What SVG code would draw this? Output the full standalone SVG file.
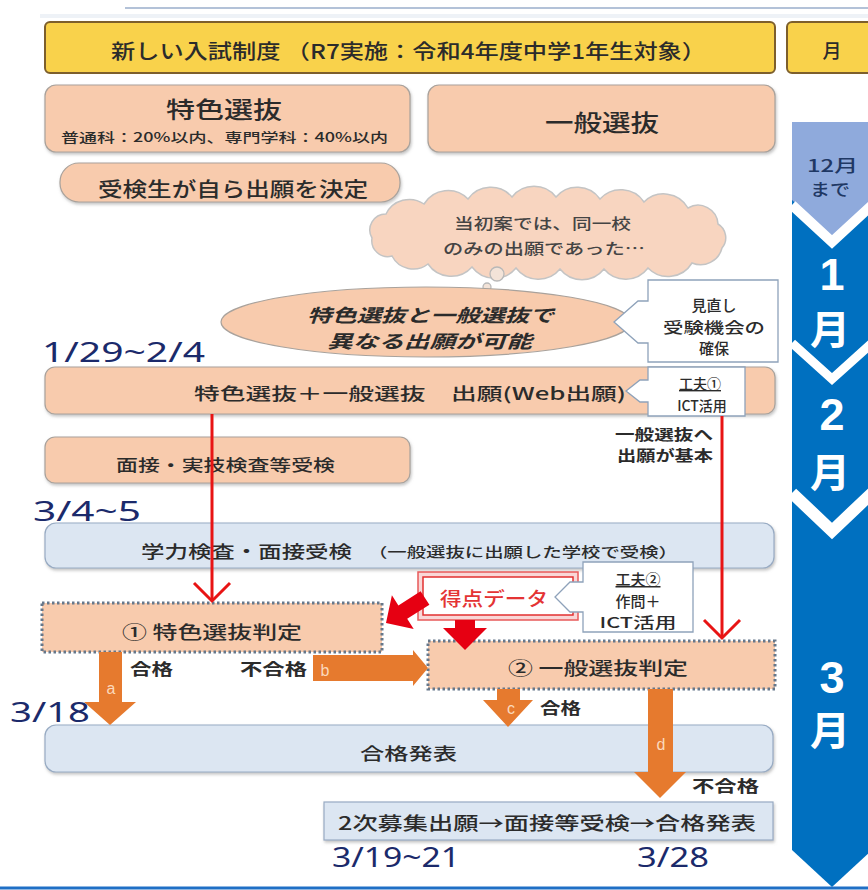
<svg xmlns="http://www.w3.org/2000/svg" width="868" height="890" viewBox="0 0 868 890">
<defs>
<style>
.jp{font-family:"Noto Sans CJK JP","Noto Sans",sans-serif;fill:#2b2b2b;font-weight:500}
.b{font-weight:700}
.date{font-family:"Noto Sans","DejaVu Sans",sans-serif;fill:#1B2A6B;font-size:28px}
.sal{fill:#F8CBAD;stroke:#A9A29C;stroke-width:1.2}
.lb{fill:#DCE6F2;stroke:#98ABC3;stroke-width:1.2}
.dot{fill:#F8CBAD;stroke:#66778A;stroke-width:3;stroke-dasharray:2.5 2.5}
.call{fill:#fff;stroke:#8EA2BA;stroke-width:1.3}
.red{stroke:#E81414;stroke-width:3;fill:none}
.org{fill:#E67A2E}
.lab{font-family:"Liberation Sans",sans-serif;fill:#FBD9BC;font-size:16px;text-anchor:middle}
.wt{fill:#fff;font-weight:700;text-anchor:middle}
</style>
<filter id="sh" x="-5%" y="-10%" width="110%" height="130%">
<feDropShadow dx="1" dy="2" stdDeviation="1.5" flood-color="#888" flood-opacity="0.5"/>
</filter>
</defs>
<rect width="868" height="890" fill="#fff"/>
<line x1="125" y1="8" x2="868" y2="8" stroke="#B3C2D8" stroke-width="2"/>
<line x1="40" y1="16" x2="868" y2="16" stroke="#EEF2F7" stroke-width="4"/>

<g id="title">
<rect x="45" y="22" width="730" height="51" rx="5" fill="#F9D24B" stroke="#7D5F2C" stroke-width="2"/>
<text class="jp" x="111" y="59" font-size="20" textLength="595" lengthAdjust="spacingAndGlyphs">新しい入試制度 （R7実施：令和4年度中学1年生対象）</text>
</g>
<g id="month-header">
<rect x="787" y="22" width="90" height="51" rx="5" fill="#F9D24B" stroke="#7D5F2C" stroke-width="2"/>
<text class="jp" x="832" y="58" font-size="19" text-anchor="middle">月</text>
</g>

<g id="timeline">
<polygon points="792,200 872,200 872,850 832,887 792,850" fill="#0070C0"/>
<polygon points="792,122 872,122 872,200 832,237 792,200" fill="#8FAADC"/>
<polyline points="792,205 832,242 872,205" fill="none" stroke="#fff" stroke-width="10"/>
<polyline points="792,343 832,379 872,343" fill="none" stroke="#fff" stroke-width="9"/>
<polyline points="792,493 832,531 872,493" fill="none" stroke="#fff" stroke-width="12"/>
<text class="jp" x="807" y="172" font-size="17" textLength="51" lengthAdjust="spacingAndGlyphs" style="fill:#1F3864">12月</text>
<text class="jp" x="810" y="196" font-size="17" textLength="40" lengthAdjust="spacingAndGlyphs" style="fill:#1F3864">まで</text>
<text class="wt" x="832" y="290" font-size="45" font-family="Liberation Sans,sans-serif">1</text>
<text class="wt" x="830" y="344" font-size="40" font-family="Noto Sans CJK JP,sans-serif">月</text>
<text class="wt" x="832" y="430" font-size="45" font-family="Liberation Sans,sans-serif">2</text>
<text class="wt" x="830" y="487" font-size="40" font-family="Noto Sans CJK JP,sans-serif">月</text>
<text class="wt" x="832" y="693" font-size="45" font-family="Liberation Sans,sans-serif">3</text>
<text class="wt" x="830" y="745" font-size="40" font-family="Noto Sans CJK JP,sans-serif">月</text>
</g>

<g id="tokushoku">
<rect class="sal" x="45" y="85" width="365" height="67" rx="11" filter="url(#sh)"/>
<text class="jp" x="166" y="118" font-size="23" textLength="116" lengthAdjust="spacingAndGlyphs">特色選抜</text>
<text class="jp" x="61" y="142" font-size="13" textLength="327" lengthAdjust="spacingAndGlyphs">普通科：20%以内、専門学科：40%以内</text>
</g>
<g id="ippan">
<rect class="sal" x="428" y="85" width="347" height="67" rx="11" filter="url(#sh)"/>
<text class="jp" x="545" y="131" font-size="23" textLength="114" lengthAdjust="spacingAndGlyphs">一般選抜</text>
</g>
<g id="jiyu">
<rect class="sal" x="60" y="163" width="340" height="39" rx="19" filter="url(#sh)"/>
<text class="jp" x="98" y="197" font-size="20" textLength="270" lengthAdjust="spacingAndGlyphs">受検生が自ら出願を決定</text>
</g>

<g id="cloud">
<path d="M372,238 A16,16 0 0 1 386,214 A26,26 0 0 1 424,204 A28,28 0 0 1 468,199 A28,28 0 0 1 512,197 A28,28 0 0 1 556,197 A28,28 0 0 1 600,199 A28,28 0 0 1 644,202 A28,28 0 0 1 688,208 A20,20 0 0 1 718,224 A16,16 0 0 1 722,248 A22,22 0 0 1 692,263 A28,28 0 0 1 648,268 A28,28 0 0 1 604,269 A28,28 0 0 1 560,269 A28,28 0 0 1 516,268 A28,28 0 0 1 472,267 A28,28 0 0 1 428,264 A24,24 0 0 1 392,256 A16,16 0 0 1 372,238 Z" fill="#F8D5C0" stroke="#C4C4C4" stroke-width="1.5"/>
<circle cx="497" cy="274" r="7" fill="#F3E3D8" stroke="#B8B8B8" stroke-width="1.3"/>
<circle cx="487" cy="287" r="4" fill="#F3E3D8" stroke="#B8B8B8" stroke-width="1.3"/>
<text class="jp" x="454" y="229" font-size="15" textLength="177" lengthAdjust="spacingAndGlyphs" style="fill:#444">当初案では、同一校</text>
<text class="jp" x="443" y="254" font-size="15" textLength="202" lengthAdjust="spacingAndGlyphs" style="fill:#444">のみの出願であった…</text>
</g>

<g id="kanou">
<ellipse class="sal" cx="426" cy="322" rx="205" ry="35"/>
<text class="jp b" x="307" y="322" font-size="18" font-style="italic" textLength="247" lengthAdjust="spacingAndGlyphs">特色選抜と一般選抜で</text>
<text class="jp b" x="327" y="348" font-size="18" font-style="italic" textLength="205" lengthAdjust="spacingAndGlyphs">異なる出願が可能</text>
</g>
<g id="minaoshi">
<path class="call" d="M648,280 H778 V362 H648 V343 H638 L614,322 L638,301 H648 Z"/>
<text class="jp" x="714" y="311" font-size="15" text-anchor="middle">見直し</text>
<text class="jp" x="714" y="333" font-size="15" text-anchor="middle" textLength="102" lengthAdjust="spacingAndGlyphs">受験機会の</text>
<text class="jp" x="714" y="354" font-size="15" text-anchor="middle">確保</text>
</g>

<text class="date" x="42" y="362" textLength="163" lengthAdjust="spacingAndGlyphs">1/29~2/4</text>

<g id="shutsugan">
<rect class="sal" x="45" y="367" width="730" height="47" rx="10" filter="url(#sh)"/>
<text class="jp" x="194" y="400" font-size="17" textLength="432" lengthAdjust="spacingAndGlyphs">特色選抜＋一般選抜　出願(Web出願)</text>
</g>
<g id="kufu1">
<path class="call" d="M648,367 H745 V416 H648 V402 H640 L626,391 L640,380 H648 Z"/>
<text class="jp" x="700" y="389" font-size="14" text-anchor="middle" text-decoration="underline">工夫①</text>
<text class="jp" x="702" y="411" font-size="14" text-anchor="middle">ICT活用</text>
</g>

<g id="ippan-note">
<text class="jp b" x="615" y="440" font-size="15" textLength="98" lengthAdjust="spacingAndGlyphs">一般選抜へ</text>
<text class="jp b" x="617" y="461" font-size="15" textLength="96" lengthAdjust="spacingAndGlyphs">出願が基本</text>
</g>

<g id="mensetsu">
<rect class="sal" x="45" y="437" width="365" height="46" rx="10" filter="url(#sh)"/>
<text class="jp" x="116" y="471" font-size="16" textLength="219" lengthAdjust="spacingAndGlyphs">面接・実技検査等受検</text>
</g>

<text class="date" x="33" y="521" textLength="108" lengthAdjust="spacingAndGlyphs">3/4~5</text>

<g id="gakuryoku">
<rect class="lb" x="45" y="523" width="729" height="45" rx="11" filter="url(#sh)"/>
<text class="jp" x="141" y="558" font-size="17" textLength="211" lengthAdjust="spacingAndGlyphs">学力検査・面接受検</text>
<text class="jp" x="368" y="557" font-size="13.5" textLength="310" lengthAdjust="spacingAndGlyphs">（一般選抜に出願した学校で受検）</text>
</g>

<g id="tokuten">
<rect x="418" y="572" width="160" height="48" fill="#F9D7D7" stroke="#E85A5A" stroke-width="1.5"/>
<rect x="423" y="577" width="150" height="38" fill="#fff" stroke="#E23030" stroke-width="1.5"/>
<text class="jp" x="440" y="606" font-size="19" textLength="108" lengthAdjust="spacingAndGlyphs" style="fill:#E43434">得点データ</text>
</g>
<g id="kufu2">
<path class="call" d="M583,562 H693 V632 H583 V612 H570 L555,597 L570,582 H583 Z"/>
<text class="jp" x="638" y="585" font-size="15" text-anchor="middle" text-decoration="underline">工夫②</text>
<text class="jp" x="638" y="607" font-size="15" text-anchor="middle">作問＋</text>
<text class="jp" x="638" y="628" font-size="15" text-anchor="middle" textLength="77" lengthAdjust="spacingAndGlyphs">ICT活用</text>
</g>

<g id="hantei1">
<rect class="dot" x="42" y="603" width="340" height="49"/>
<text class="jp" x="122" y="639" font-size="18" textLength="180" lengthAdjust="spacingAndGlyphs">① 特色選抜判定</text>
</g>
<g id="hantei2">
<rect class="dot" x="428" y="641" width="347" height="48"/>
<text class="jp" x="508" y="675" font-size="18" textLength="180" lengthAdjust="spacingAndGlyphs">② 一般選抜判定</text>
</g>

<g id="goukaku">
<rect class="lb" x="45" y="725" width="728" height="47" rx="11" filter="url(#sh)"/>
<text class="jp" x="360" y="760" font-size="17" textLength="97" lengthAdjust="spacingAndGlyphs">合格発表</text>
</g>
<g id="niji">
<rect class="lb" x="324" y="802" width="449" height="38" filter="url(#sh)"/>
<text class="jp" x="338" y="830" font-size="18" textLength="418" lengthAdjust="spacingAndGlyphs">2次募集出願→面接等受検→合格発表</text>
</g>

<text class="date" x="10" y="722" textLength="80" lengthAdjust="spacingAndGlyphs">3/18</text>
<text class="date" x="332" y="867" font-size="26" textLength="128" lengthAdjust="spacingAndGlyphs">3/19~21</text>
<text class="date" x="637" y="867" font-size="26" textLength="72" lengthAdjust="spacingAndGlyphs">3/28</text>

<g id="connectors">
<line class="red" x1="212" y1="414" x2="212" y2="600"/>
<polyline class="red" points="194,583 212,601 230,583" stroke-width="3.5"/>
<line class="red" x1="722" y1="416" x2="722" y2="637"/>
<polyline class="red" points="704,620 722,638 740,620" stroke-width="3.5"/>
<polygon points="420.6,591.3 398.4,605.4 391.9,595.3 386,623 413.7,628.9 407.2,618.8 429.4,604.7" fill="#E60012"/>
<polygon points="455,620 475,620 475,628 487,628 465,650 443,628 455,628" fill="#E60012"/>
<polygon class="org" points="99,652 122,652 122,702 136,702 110,725 84,702 99,702"/>
<text class="lab" x="111" y="694">a</text>
<polygon class="org" points="313,655 413,655 413,650 428,668 413,686 413,681 313,681"/>
<text class="lab" x="325" y="676">b</text>
<polygon class="org" points="497,689 520,689 520,700 533,700 508,727 483,700 497,700"/>
<text class="lab" x="511" y="714">c</text>
<polygon class="org" points="648,689 673,689 673,772 686,772 660,798 634,772 648,772"/>
<text class="lab" x="661" y="750">d</text>
<text class="jp b" x="130" y="675" font-size="16" textLength="43" lengthAdjust="spacingAndGlyphs">合格</text>
<text class="jp b" x="240" y="675" font-size="16" textLength="67" lengthAdjust="spacingAndGlyphs">不合格</text>
<text class="jp b" x="540" y="714" font-size="16" textLength="41" lengthAdjust="spacingAndGlyphs">合格</text>
<text class="jp b" x="692" y="792" font-size="16" textLength="67" lengthAdjust="spacingAndGlyphs">不合格</text>
</g>

<line x1="0" y1="888" x2="868" y2="888" stroke="#1F6FC5" stroke-width="3"/>
</svg>
